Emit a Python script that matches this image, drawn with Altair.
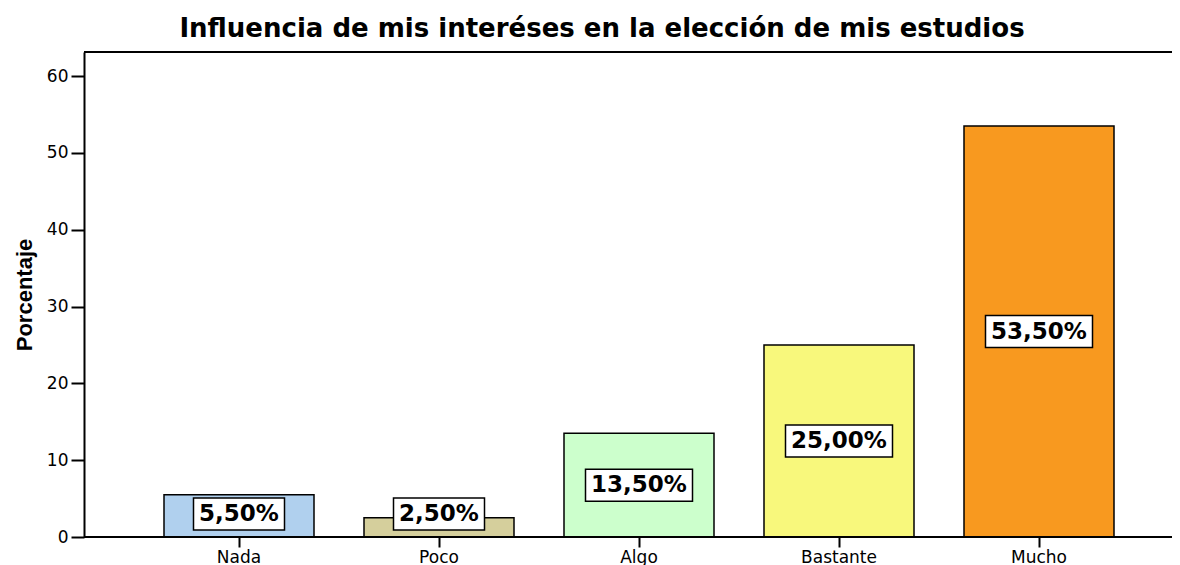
import altair as alt
import pandas as pd

categories = ["Nada", "Poco", "Algo", "Bastante", "Mucho"]
values = [5.5, 2.5, 13.5, 25.0, 53.5]
labels = ["5,50%", "2,50%", "13,50%", "25,00%", "53,50%"]
colors = ["#b0d0ee", "#d5cf9c", "#ccffcc", "#f8f87c", "#f8991f"]
y_ticks = [0, 10, 20, 30, 40, 50, 60]

W, H = 1088, 485
YMAX = 63.15
px_per_unit = H / YMAX
box_h = 32 / px_per_unit

rows = []
for c, v, l in zip(categories, values, labels):
    ly = max(v / 2, 3.0)
    rows.append(dict(cat=c, val=v, lab=l, ly=ly, y0=ly - box_h / 2, y1=ly + box_h / 2,
                     bw=16 * len(l) + 11))
df = pd.DataFrame(rows)

FONT = "DejaVu Sans"

xscale = alt.Scale(domain=categories, range=[80, 1030], paddingInner=0.25, paddingOuter=0)
yscale = alt.Scale(domain=[0, YMAX], nice=False)

x_enc = alt.X("cat:N", scale=xscale, sort=categories,
              axis=alt.Axis(title=None, labelFont=FONT, labelFontSize=17, labelColor="black",
                            labelAngle=0, tickSize=10, tickWidth=2, tickColor="black",
                            domain=False, labelPadding=2))

base = alt.Chart(df)

bars = base.mark_bar(stroke="black", strokeWidth=1.5).encode(
    x=x_enc,
    y=alt.Y("val:Q", scale=yscale,
            axis=alt.Axis(values=y_ticks, title="Porcentaje", titleFont="Liberation Sans",
                          titleFontSize=22, titleFontWeight="bold", titleColor="black",
                          titlePadding=10, labelFont=FONT, labelFontSize=17,
                          labelColor="black", tickSize=13, tickWidth=2, tickColor="black",
                          domainColor="black", domainWidth=2, grid=False, labelPadding=3)),
    color=alt.Color("cat:N", scale=alt.Scale(domain=categories, range=colors), legend=None),
)

boxes = base.mark_bar(fill="white", stroke="black", strokeWidth=1.5).encode(
    x=alt.X("cat:N", scale=xscale, sort=categories),
    y=alt.Y("y0:Q", scale=yscale),
    y2="y1:Q",
    size=alt.Size("bw:Q", scale=None, legend=None),
)

texts = base.mark_text(font=FONT, fontSize=23, fontWeight="bold", color="black",
                       baseline="middle", align="center").encode(
    x=alt.X("cat:N", scale=xscale, sort=categories, bandPosition=0.5),
    y=alt.Y("ly:Q", scale=yscale),
    text="lab:N",
)

top_line = alt.Chart(df).mark_rule(color="black", strokeWidth=2).encode(
    x=alt.value(0), x2=alt.value(W), y=alt.value(0)
)
bottom_line = alt.Chart(df).mark_rule(color="black", strokeWidth=2).encode(
    x=alt.value(0), x2=alt.value(W), y=alt.value(H)
)

chart = alt.layer(bars, boxes, texts, top_line, bottom_line).properties(
    width=W, height=H,
    title=alt.TitleParams("Influencia de mis interéses en la elección de mis estudios",
                          font=FONT, fontSize=26, fontWeight="bold", color="black",
                          anchor="middle", dx=-26, offset=9),
    autosize=alt.AutoSizeParams(type="none"),
    padding={"left": 76, "top": 44, "right": 0, "bottom": 28},
).configure_view(
    stroke=None, fill="#efefef"
).configure(background="white")

chart.save("out.html", embed_options={"renderer": "svg", "actions": False})
